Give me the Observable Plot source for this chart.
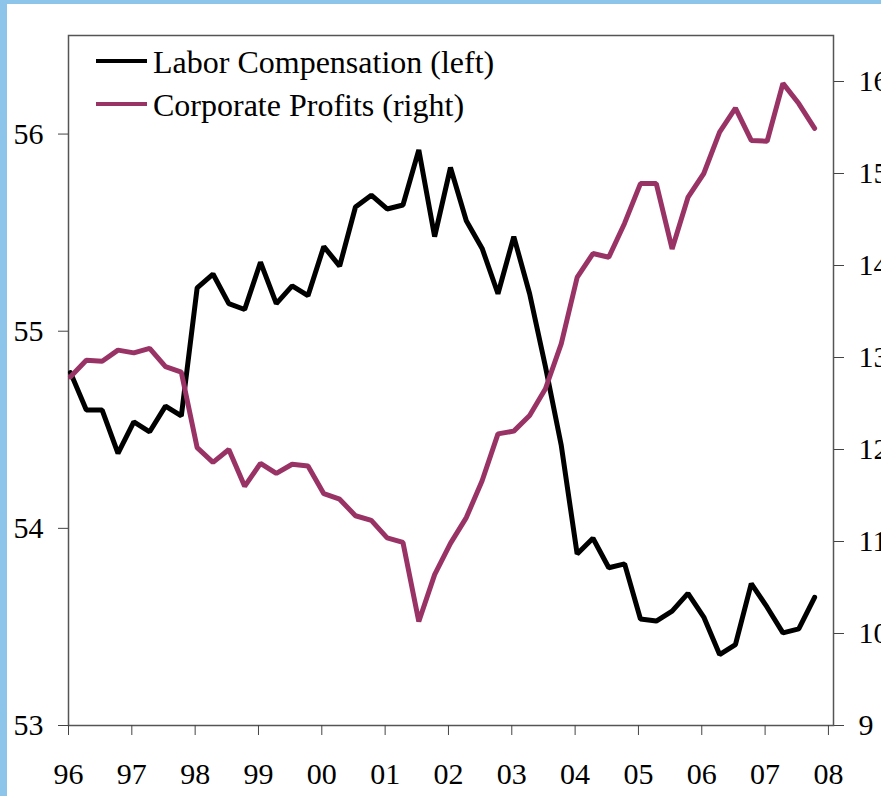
<!DOCTYPE html>
<html><head><meta charset="utf-8">
<script src="https://cdn.jsdelivr.net/npm/d3@7"></script>
<script src="https://cdn.jsdelivr.net/npm/@observablehq/plot@0.6"></script>
<style>
html,body{margin:0;padding:0;background:#fff;overflow:hidden;}
#wrap{position:relative;width:881px;height:796px;overflow:hidden;}
.strip{position:absolute;background:#8DC4EA;}
.lg-line{position:absolute;height:4px;width:51px;left:96px;}
.lg-text{position:absolute;left:153px;font-family:"Liberation Serif",serif;font-size:32px;line-height:40px;white-space:nowrap;color:#000;}
</style></head>
<body><div id="wrap"></div>
<script>
const startYear = 1996;
const xTicks = [1996,1997,1998,1999,2000,2001,2002,2003,2004,2005,2006,2007,2008];
const leftTicks = [53,54,55,56];
const rightTicks = [9,10,11,12,13,14,15,16];
const seriesNames = ["Labor Compensation (left)", "Corporate Profits (right)"];
const colors = ["#000000", "#993366"];
// quarterly, 1996Q1 .. 2007Q4
const labor = [54.79,54.60,54.60,54.38,54.54,54.49,54.62,54.57,
               55.22,55.29,55.14,55.11,55.35,55.14,55.23,55.18,
               55.43,55.33,55.63,55.69,55.62,55.64,55.92,55.48,
               55.83,55.56,55.42,55.19,55.48,55.19,54.82,54.42,
               53.87,53.95,53.80,53.82,53.54,53.53,53.58,53.67,
               53.55,53.36,53.41,53.72,53.60,53.47,53.49,53.65];
const profits = [12.79,12.97,12.96,13.08,13.05,13.10,12.90,12.84,
                 12.02,11.86,12.00,11.60,11.85,11.74,11.84,11.82,
                 11.52,11.46,11.28,11.23,11.04,10.99,10.13,10.64,
                 10.98,11.26,11.66,12.17,12.20,12.37,12.66,13.15,
                 13.87,14.13,14.09,14.46,14.89,14.89,14.18,14.74,
                 15.00,15.45,15.71,15.36,15.35,15.98,15.76,15.49];

const leftDomain = [53, 56.5];
const rightDomain = [9, 16.5];
const toLeft = v => leftDomain[0] + (v - rightDomain[0]) * (leftDomain[1]-leftDomain[0]) / (rightDomain[1]-rightDomain[0]);
const fromLeft = v => rightDomain[0] + (v - leftDomain[0]) * (rightDomain[1]-rightDomain[0]) / (leftDomain[1]-leftDomain[0]);

const data = labor.map((v,i) => ({x: startYear + i/4, labor: v, profitsL: toLeft(profits[i])}));

const chart = Plot.plot({
  width: 881, height: 796,
  marginLeft: 68, marginRight: 48, marginTop: 35, marginBottom: 71,
  style: {fontFamily: "Liberation Serif, serif", fontSize: "30px", background: "transparent", color: "#000"},
  x: {domain: [1996, 2008.08]},
  y: {domain: leftDomain},
  marks: [
    Plot.frame({stroke: "#555", strokeWidth: 1.5}),
    Plot.axisX({ticks: xTicks, tickSize: 10, tickPadding: 27, tickFormat: d => String(d).slice(-2), stroke: "#444", label: null}),
    Plot.axisY({ticks: leftTicks, tickSize: 10, tickPadding: 15, anchor: "left", tickFormat: d => String(d), stroke: "#444", label: null}),
    Plot.axisY(rightTicks.map(toLeft), {anchor: "right", tickSize: 10, tickPadding: 15, tickFormat: d => String(Math.round(fromLeft(d))), stroke: "#444", label: null}),
    Plot.line(data, {x: "x", y: "labor", stroke: colors[0], strokeWidth: 5, dx: 2, strokeLinejoin: "miter"}),
    Plot.line(data, {x: "x", y: "profitsL", stroke: colors[1], strokeWidth: 5, dx: 2, strokeLinejoin: "miter"})
  ]
});
chart.style.overflow = "visible";
const wrap = document.getElementById("wrap");
wrap.appendChild(chart);

function add(cls, styles, text) {
  const d = document.createElement("div");
  d.className = cls;
  Object.assign(d.style, styles);
  if (text) d.textContent = text;
  wrap.appendChild(d);
}
add("strip", {left: "0px", top: "0px", width: "7px", height: "796px"});
add("strip", {left: "0px", top: "0px", width: "881px", height: "4px"});
const rowY = [61, 104];
seriesNames.forEach((name, k) => {
  add("lg-line", {top: (rowY[k]-2) + "px", background: colors[k]});
  add("lg-text", {top: (rowY[k]-19) + "px"}, name);
});
</script>
</body></html>
